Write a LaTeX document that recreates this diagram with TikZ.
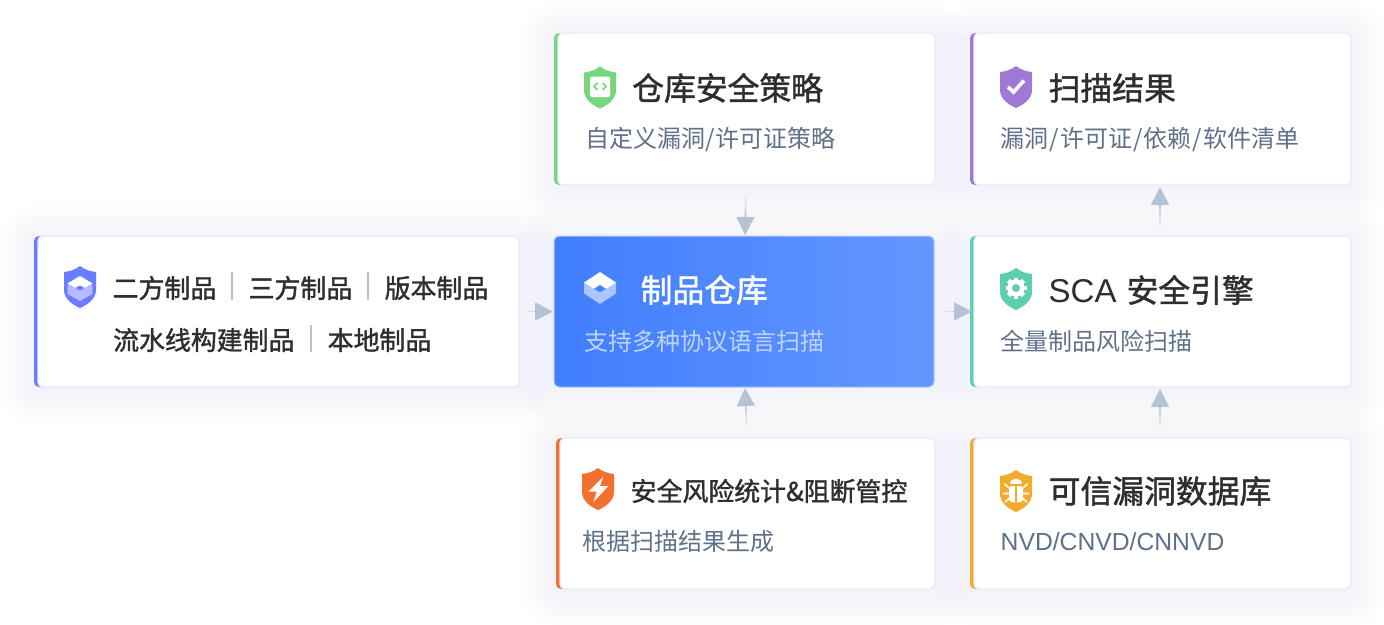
\documentclass[tikz,border=0pt]{standalone}
\usepackage{fontspec}
\setmainfont{Noto Sans CJK SC}
\newfontfamily\medfont[FakeBold=1.4]{Noto Sans CJK SC}
\newfontfamily\latinfont{Liberation Sans}
\usetikzlibrary{arrows.meta,calc}
\definecolor{glow}{HTML}{D3DDFA}
\definecolor{cardline}{HTML}{E6ECFD}
\definecolor{ink}{HTML}{2E2E2E}
\definecolor{subink}{HTML}{5F7189}
\definecolor{rulec}{HTML}{B0C2D6}
\definecolor{tipc}{HTML}{B4C4D6}
\definecolor{cblue}{HTML}{6B7DFF}
\definecolor{cgreen}{HTML}{78D67C}
\definecolor{cpurple}{HTML}{A079D5}
\definecolor{cteal}{HTML}{5FCDB0}
\definecolor{corange}{HTML}{F4702E}
\definecolor{cyellow}{HTML}{F2AB2C}
\definecolor{lblue}{HTML}{B3BCFF}
\definecolor{centerL}{HTML}{3F7EFD}
\definecolor{centerR}{HTML}{6596FF}
\definecolor{centersub}{HTML}{BFD4FD}
\definecolor{cicon}{HTML}{A9C6FF}
\tikzset{
  cardbox/.style={draw=cardline,line width=1.4pt,fill=white,rounded corners=5pt,inner sep=0pt,outer sep=0pt},
  centerbox/.style={draw=cardline!60!centerR,line width=1pt,left color=centerL,right color=centerR,rounded corners=5pt,inner sep=0pt,outer sep=0pt},
  titletxt/.style={anchor=west,inner sep=0pt,text=ink,font=\medfont\fontsize{31.8}{32}\selectfont},
  midtxt/.style={anchor=west,inner sep=0pt,text=ink,font=\medfont\fontsize{25.9}{26}\selectfont},
  subtxt/.style={anchor=west,inner sep=0pt,text=subink,font=\fontsize{24}{24}\selectfont},
  sepbar/.style={draw=rulec,line width=1.6pt},
  linkseg/.style={line width=1.7pt},
  linktip/.style={draw=tipc,line width=1.7pt,-{Triangle[length=18pt,width=18pt,fill=tipc]}},
}
% soft halo
\newcommand\halo[4]{%
  \foreach \m in {36,33,...,3}{%
    \fill[glow,opacity=0.012,rounded corners={(\m+6)*1pt}] ({#1-\m},{#2-\m+4}) rectangle ({#3+\m},{#4+\m+4});
  }}
% name, x1, y1, x2, y2, colour
\newcommand\cardat[6]{%
  \fill[#6,rounded corners=5pt] (#2,#3) rectangle ({#2+16},#5);
  \path ({(#2+4+#4)/2},{(#3+#5)/2}) node[cardbox,minimum width={(#4-#2-4)*1pt},minimum height={(#5-#3)*1pt}] (#1) {};
}
% graded connector
\newcommand\linkfade[2]{%
  \foreach \i [evaluate=\i as \a using {\i*0.07},evaluate=\i as \b using {(\i+1)*0.07},evaluate=\i as \p using {12+\i*10}] in {0,...,7}{%
    \draw[linkseg,tipc!\p!white] ($(#1)!\a!(#2)$) -- ($(#1)!\b!(#2)$);
  }
  \draw[linktip] ($(#1)!0.56!(#2)$) -- (#2);
}
\newcommand\shieldpath{(0,-21) .. controls (5,-17) and (11,-15.5) .. (16,-15) -- (16,3) .. controls (16,12) and (7,18) .. (0,21) .. controls (-7,18) and (-16,12) .. (-16,3) -- (-16,-15) .. controls (-11,-15.5) and (-5,-17) .. (0,-21) -- cycle}
\begin{document}
\begin{tikzpicture}[x=1pt,y=-1pt]
\useasboundingbox (0,0) rectangle (1384,624);
\fill[white] (0,0) rectangle (1384,624);
% halos
\halo{34}{236}{519}{387}
\halo{554}{33}{935}{185}
\halo{970}{33}{1351}{185}
\halo{554}{236}{934}{387}
\halo{970}{236}{1351}{387}
\halo{556}{438}{935}{589}
\halo{970}{438}{1351}{589}
% cards
\cardat{src}{34}{236}{519}{387}{cblue}
\cardat{policy}{554}{33}{935}{185}{cgreen}
\cardat{result}{970}{33}{1351}{185}{cpurple}
\path (744,311.5) node[centerbox,minimum width=380pt,minimum height=151pt] (repo) {};
\cardat{sca}{970}{236}{1351}{387}{cteal}
\cardat{risk}{556}{438}{935}{589}{corange}
\cardat{vuln}{970}{438}{1351}{589}{cyellow}
% anchors for connectors
\coordinate (a1s) at ($(src.east)+(2,0)$);
\coordinate (a1e) at ($(repo.west)+(-1,0)$);
\coordinate (a2s) at ($(repo.east)+(5,0)$);
\coordinate (a2e) at ($(sca.west)+(-2,0)$);
\coordinate (a3s) at ($(policy.south)+(-0.5,5)$);
\coordinate (a3e) at ($(repo.north)+(1,-1)$);
\coordinate (a4s) at ($(risk.north)+(-0.5,-6)$);
\coordinate (a4e) at ($(repo.south)+(1,1)$);
\coordinate (a5s) at ($(sca.north)+(-2.5,-4)$);
\coordinate (a5e) at ($(result.south)+(-2.5,2)$);
\coordinate (a6s) at ($(vuln.north)+(-2.5,-6)$);
\coordinate (a6e) at ($(sca.south)+(-2.5,2)$);
\linkfade{a1s}{a1e}
\linkfade{a2s}{a2e}
\linkfade{a3s}{a3e}
\linkfade{a4s}{a4e}
\linkfade{a5s}{a5e}
\linkfade{a6s}{a6e}
% left card text
\node[midtxt] (n1) at (112.5,288) {二方制品};
\node[midtxt] (n2) at (248.5,288) {三方制品};
\node[midtxt] (n3) at (384.5,288) {版本制品};
\node[midtxt] (n4) at (113,340) {流水线构建制品};
\node[midtxt] (n5) at (327.5,340) {本地制品};
\draw[sepbar] (232,272) -- (232,300);
\draw[sepbar] (368,272) -- (368,300);
\draw[sepbar] (311,325) -- (311,352);
% titles
\node[titletxt] (t1) at (632,88) {仓库安全策略};
\node[subtxt] (s1) at (585.5,139.5) {自定义漏洞/许可证策略};
\node[titletxt] (t2) at (1048.5,88) {扫描结果};
\node[subtxt] (s2) at (1000.5,139.5) {漏洞\kern1pt/\kern1.2pt 许可证\kern1pt/\kern1.2pt 依赖\kern1pt/\kern1.2pt 软件清单};
\node[titletxt,text=white] (t3) at (640.5,290) {制品仓库};
\node[subtxt,text=centersub] (s3) at (584.5,341) {支持多种协议语言扫描};
\node[titletxt] (t4) at (1048.5,290) {{\latinfont\fontsize{33}{33}\selectfont SCA}\kern10pt 安全引擎};
\node[subtxt] (s4) at (1000.5,341) {全量制品风险扫描};
\node[midtxt] (t5) at (630.5,491) {安全风险统计\&阻断管控};
\node[subtxt] (s5) at (582.5,541) {根据扫描结果生成};
\node[titletxt] (t6) at (1048.5,491) {可信漏洞数据库};
\node[subtxt,font=\latinfont\fontsize{24.7}{25}\selectfont] (s6) at (1000.5,542) {NVD/CNVD/CNNVD};
% icon: blue shield
\begin{scope}[shift={(80,287)}]
  \fill[cblue] \shieldpath;
  \fill[lblue] (-12.3,-3.7) -- (0,3) -- (12.3,-3.7) -- (12.3,7) -- (0,14) -- (-12.3,7) -- cycle;
  \fill[white] (0,-11) -- (12.3,-3.7) -- (0,3.5) -- (-12.3,-3.7) -- cycle;
  \fill[cblue] (0,-1.5) -- (4.5,1) -- (0,3.5) -- (-4.5,1) -- cycle;
\end{scope}
% icon: green shield
\begin{scope}[shift={(600,87.5)}]
  \fill[cgreen] \shieldpath;
  \fill[white,rounded corners=1.5pt] (-10,-11) rectangle (10,9.5);
  \draw[cgreen,line width=1.5pt] (-2.5,-4.5) -- (-6,-1) -- (-2.5,2.5);
  \draw[cgreen,line width=1.5pt] (2.5,-4.5) -- (6,-1) -- (2.5,2.5);
\end{scope}
% icon: purple shield
\begin{scope}[shift={(1016,87)}]
  \fill[cpurple] \shieldpath;
  \draw[white,line width=3.6pt] (-8,0) -- (-2.5,5) -- (8,-6.5);
\end{scope}
% icon: central box
\begin{scope}[shift={(600,288)}]
  \fill[cicon] (-16,-5.5) -- (0,5) -- (16,-5.5) -- (16,5.5) -- (0,16) -- (-16,5.5) -- cycle;
  \fill[white] (0,-16) -- (16,-5.5) -- (0,5) -- (-16,-5.5) -- cycle;
  \fill[centerL!85!centerR] (0,-3) -- (6,0.8) -- (0,4.6) -- (-6,0.8) -- cycle;
\end{scope}
% icon: teal shield
\begin{scope}[shift={(1016,289)}]
  \fill[cteal] \shieldpath;
  \foreach \r in {0,45,...,315}{\fill[white,shift={(0,-1)},rotate=\r] (-2.4,-10.5) rectangle (2.4,-6);}
  \fill[white] (0,-1) circle (8.5);
  \fill[cteal] (0,-1) circle (4);
\end{scope}
% icon: orange shield
\begin{scope}[shift={(598,489)}]
  \fill[corange] \shieldpath;
  \fill[white] (5.3,-12.3) -- (-9.7,2.7) -- (-1.3,2.7) -- (-4.7,13.3) -- (10.3,-3) -- (2,-3) -- cycle;
\end{scope}
% icon: yellow shield
\begin{scope}[shift={(1016,491)}]
  \fill[cyellow] \shieldpath;
  \fill[white] (-6,-7) .. controls (-6,-14.5) and (6,-14.5) .. (6,-7) -- cycle;
  \fill[white,rounded corners=3pt] (-7,-5) rectangle (7,11);
  \fill[cyellow] (-0.8,-5) rectangle (0.8,11);
  \draw[white,line width=1.6pt] (-7,-3) -- (-11.5,-7) (7,-3) -- (11.5,-7) (-7,2.5) -- (-13,2.5) (7,2.5) -- (13,2.5) (-6,7) -- (-11,11) (6,7) -- (11,11);
\end{scope}
\end{tikzpicture}
\end{document}
